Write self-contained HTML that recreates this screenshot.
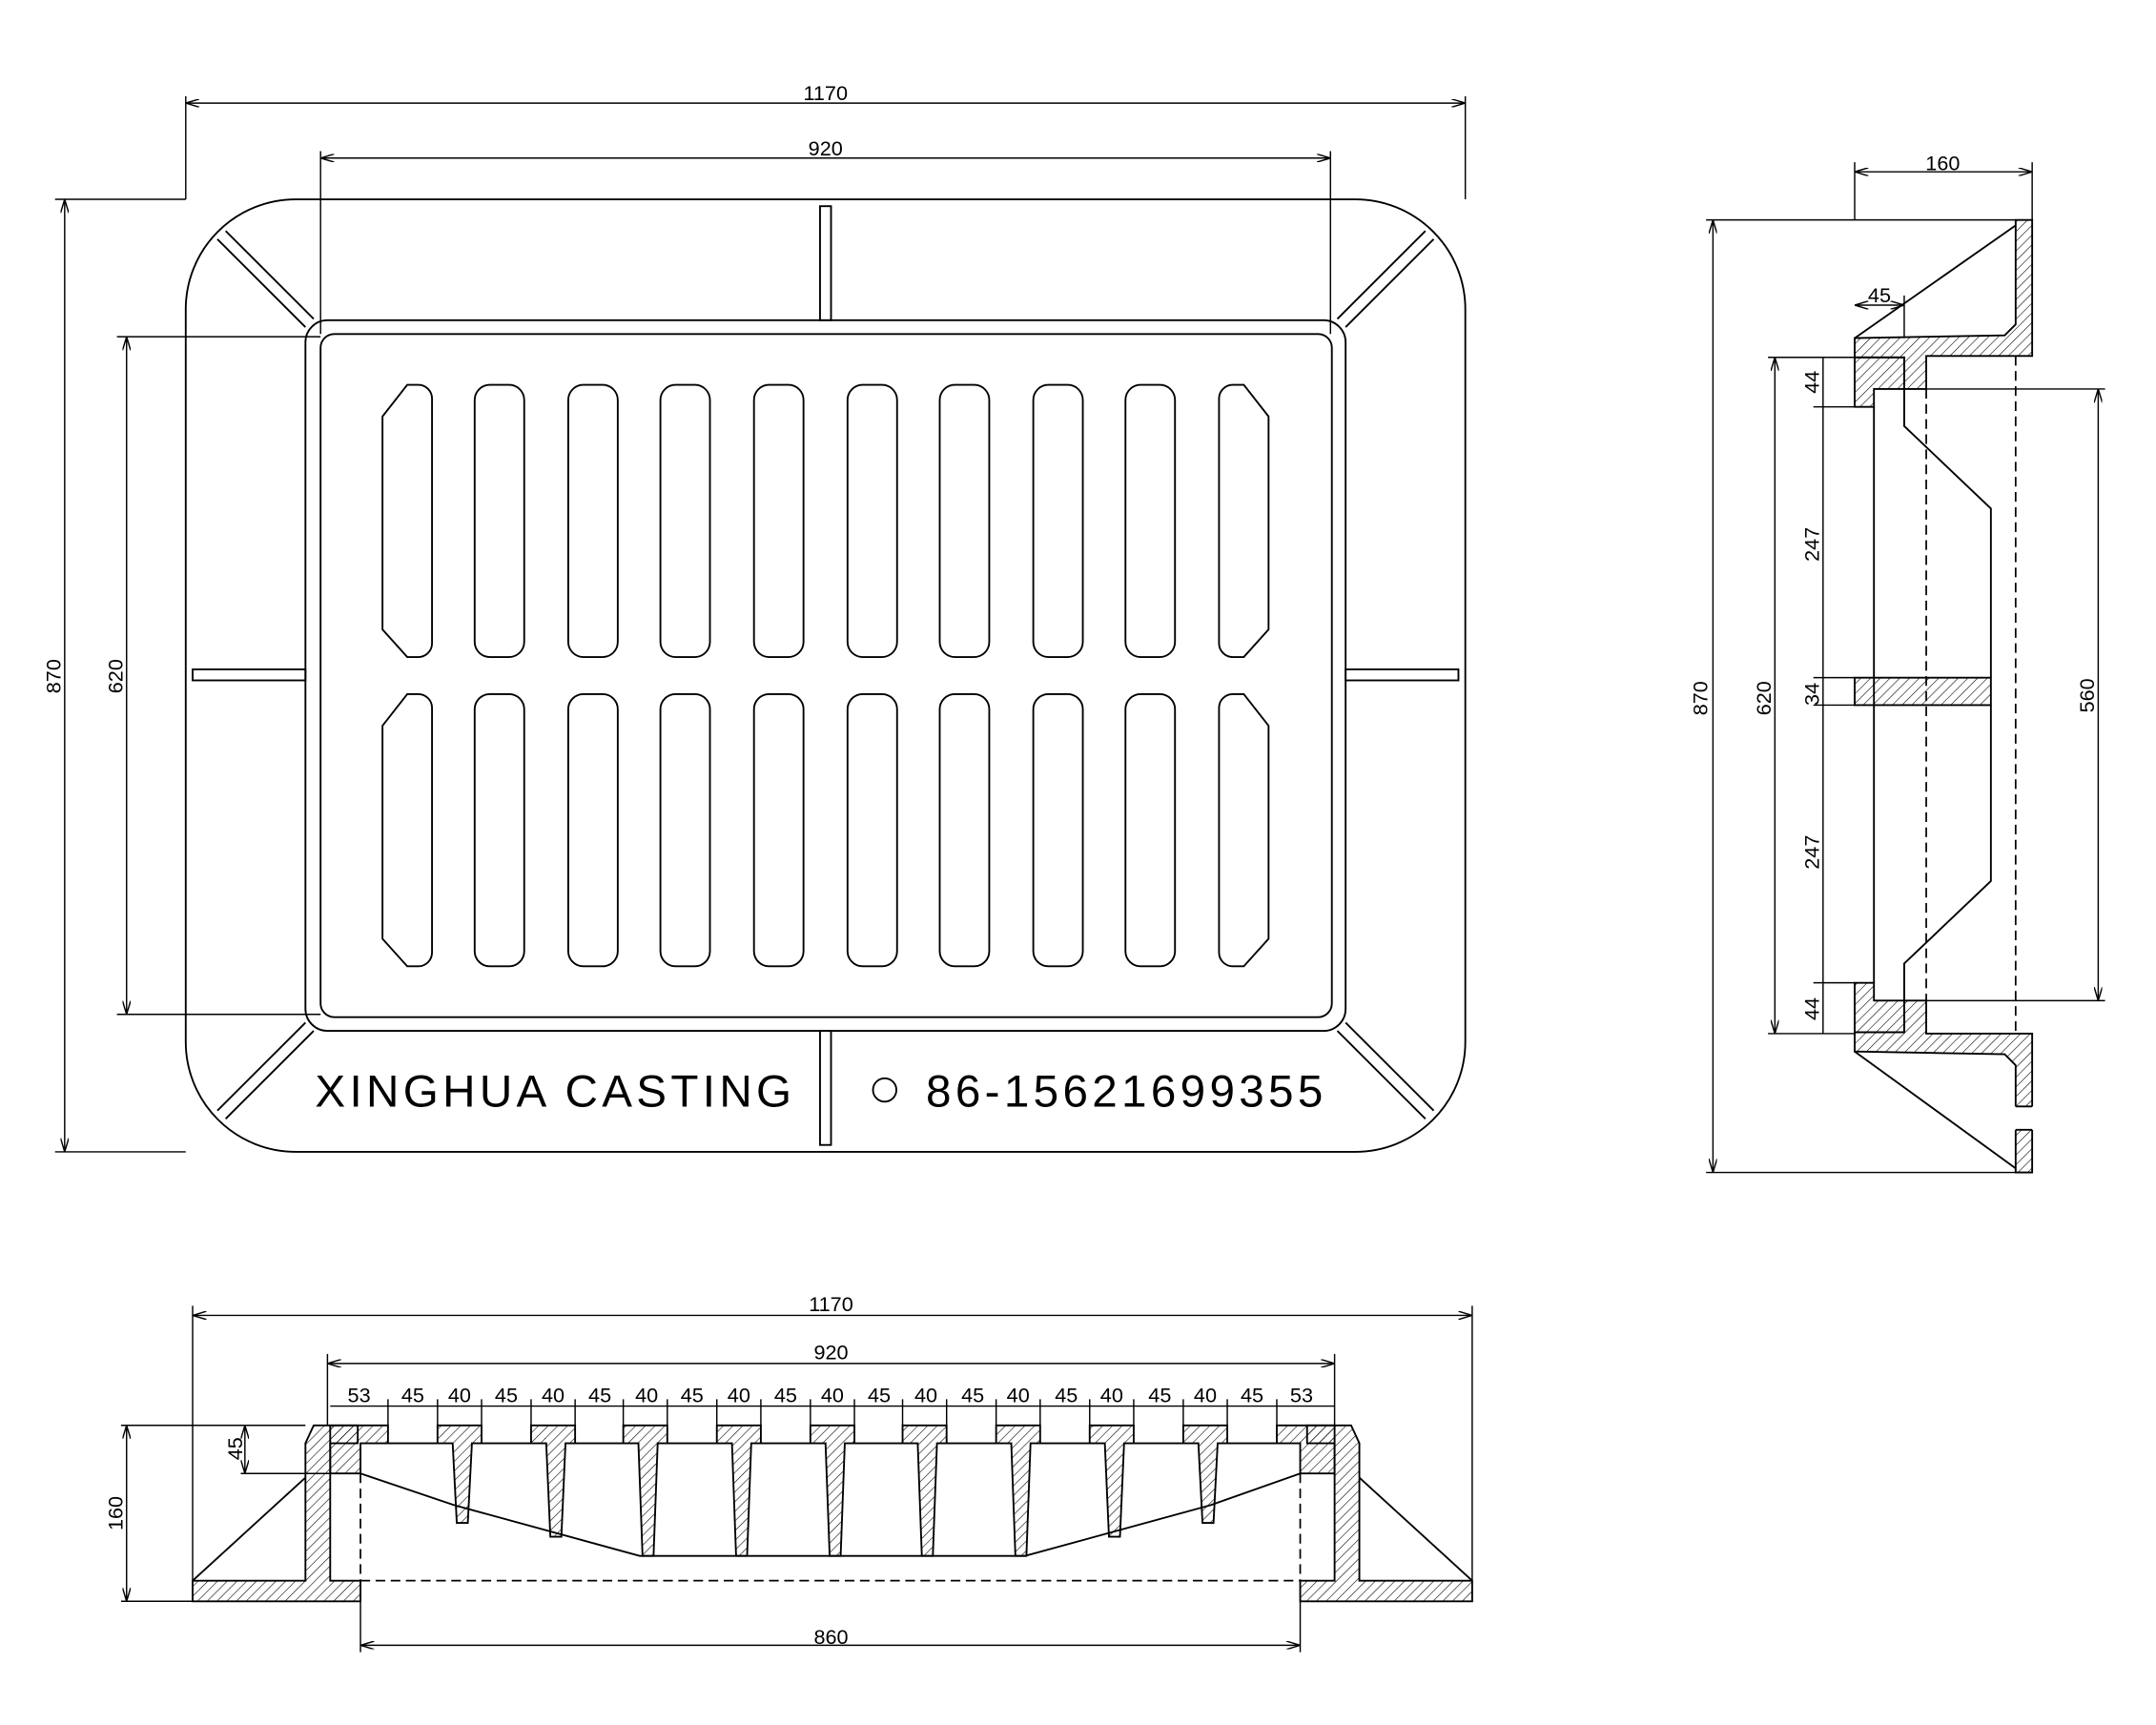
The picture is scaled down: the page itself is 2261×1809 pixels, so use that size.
<!DOCTYPE html>
<html><head><meta charset="utf-8"><style>html,body{margin:0;padding:0;background:#fff}svg{display:block}</style></head>
<body>
<svg width="2261" height="1809" viewBox="0 0 1567 1255" preserveAspectRatio="none" xmlns="http://www.w3.org/2000/svg" font-family="Liberation Sans, sans-serif">
<defs>
<pattern id="h" patternUnits="userSpaceOnUse" width="5" height="5" patternTransform="rotate(45)"><line x1="0" y1="0" x2="0" y2="5" stroke="#000" stroke-width="0.8"/></pattern>
<marker id="a" viewBox="0 0 10 6" refX="10" refY="3" markerWidth="10" markerHeight="6" orient="auto-start-reverse" markerUnits="userSpaceOnUse"><path d="M0,0L10,3L0,6" fill="none" stroke="#000" stroke-width="1"/></marker>
</defs>
<g fill="none" stroke="#000" stroke-width="1.3">
<rect x="135" y="145" width="930" height="693" rx="80"/>
<rect x="222" y="233" width="756" height="517" rx="16"/>
<rect x="233" y="243" width="735" height="497" rx="10"/>
<g id="slots">
<path d="M296 280 h8 a10 10 0 0 1 10 10 v178 a10 10 0 0 1 -10 10 h-8 l-18 -20 v-155 z"/>
<rect x="345" y="280" width="36" height="198" rx="11"/><rect x="413" y="280" width="36" height="198" rx="11"/>
<rect x="480" y="280" width="36" height="198" rx="11"/><rect x="548" y="280" width="36" height="198" rx="11"/>
<rect x="616" y="280" width="36" height="198" rx="11"/><rect x="683" y="280" width="36" height="198" rx="11"/>
<rect x="751" y="280" width="36" height="198" rx="11"/><rect x="818" y="280" width="36" height="198" rx="11"/>
<path d="M904 280 h-8 a10 10 0 0 0 -10 10 v178 a10 10 0 0 0 10 10 h8 l18 -20 v-155 z"/>
</g>
<use href="#slots" transform="translate(0,225)"/>
<rect x="596" y="150" width="8" height="83"/><rect x="596" y="750" width="8" height="83"/>
<rect x="140" y="487" width="82" height="8"/><rect x="978" y="487" width="82" height="8"/>
<path d="M164 168 L228 232 M158 174 L222 238"/>
<path d="M1036 168 L972 232 M1042 174 L978 238"/>
<path d="M164 814 L228 750 M158 808 L222 744"/>
<path d="M1036 814 L972 750 M1042 808 L978 744"/>
<circle cx="643" cy="793" r="8.5"/>
</g>
<g font-size="33" letter-spacing="3"><text x="229" y="805">XINGHUA CASTING</text><text x="673" y="805">86-15621699355</text></g>
<g stroke="#000" stroke-width="1" fill="none">
<path d="M135 145V70 M1065 145V70 M233 243V110 M967 243V110 M135 145H40 M135 838H40 M233 245H85 M233 738H85"/>
<line x1="135" y1="75" x2="1065" y2="75" marker-start="url(#a)" marker-end="url(#a)"/>
<line x1="233" y1="115" x2="967" y2="115" marker-start="url(#a)" marker-end="url(#a)"/>
<line x1="47" y1="145" x2="47" y2="838" marker-start="url(#a)" marker-end="url(#a)"/>
<line x1="92" y1="245" x2="92" y2="738" marker-start="url(#a)" marker-end="url(#a)"/>
</g>
<g font-size="15" text-anchor="middle">
<text x="600" y="73">1170</text><text x="600" y="113">920</text>
<text transform="translate(44,492) rotate(-90)">870</text><text transform="translate(89,492) rotate(-90)">620</text>
</g>
<g stroke="#000" stroke-width="1.3">
<path d="M1465 160H1477V259H1400V283H1384V260H1348V246L1457 244L1465 236Z" fill="url(#h)"/>
<path d="M1465 853H1477V752H1400V728H1384V751H1348V765L1457 767L1465 775Z" fill="url(#h)"/>
<path d="M1348 260H1384V283H1362V296H1348Z" fill="url(#h)"/>
<path d="M1348 751H1384V728H1362V715H1348Z" fill="url(#h)"/>
<path d="M1348 493H1447V513H1348Z" fill="url(#h)"/>
<path d="M1348 246L1465 164 M1348 765L1465 850" fill="none"/>
<path d="M1384 283V310L1447 370V493 M1384 728V701L1447 641V513 M1362 296V715" fill="none"/>
<rect x="1463" y="805" width="16" height="17" fill="#fff" stroke="none"/>
<path d="M1465 805H1477 M1465 822H1477" fill="none"/>
</g>
<g stroke="#000" stroke-width="1.2" fill="none" stroke-dasharray="7 4">
<path d="M1400 283V728 M1465 259V752"/>
</g>
<g stroke="#000" stroke-width="1" fill="none">
<path d="M1348 160V118 M1477 160V118 M1465 160H1240 M1477 853H1240 M1348 260H1285 M1348 752H1285 M1348 296H1318 M1348 715H1318 M1348 493H1318 M1348 513H1318 M1400 283H1530 M1400 728H1530 M1384 246V215"/>
<line x1="1348" y1="125" x2="1477" y2="125" marker-start="url(#a)" marker-end="url(#a)"/>
<line x1="1348" y1="222" x2="1384" y2="222" marker-start="url(#a)" marker-end="url(#a)"/>
<line x1="1245" y1="160" x2="1245" y2="853" marker-start="url(#a)" marker-end="url(#a)"/>
<line x1="1290" y1="260" x2="1290" y2="752" marker-start="url(#a)" marker-end="url(#a)"/>
<line x1="1325" y1="260" x2="1325" y2="752"/>
<line x1="1525" y1="283" x2="1525" y2="728" marker-start="url(#a)" marker-end="url(#a)"/>
</g>
<g font-size="15" text-anchor="middle">
<text x="1412" y="124">160</text><text x="1366" y="220">45</text>
<text transform="translate(1241,508) rotate(-90)">870</text><text transform="translate(1287,508) rotate(-90)">620</text>
<text transform="translate(1322,278) rotate(-90)">44</text><text transform="translate(1322,396) rotate(-90)">247</text>
<text transform="translate(1322,505) rotate(-90)">34</text><text transform="translate(1322,620) rotate(-90)">247</text>
<text transform="translate(1322,734) rotate(-90)">44</text><text transform="translate(1522,506) rotate(-90)">560</text>
</g>
<g stroke="#000" stroke-width="1.3">
<path d="M140 1150H222V1050L228 1037H260V1050H240V1150H262V1165H140Z" fill="url(#h)"/>
<path d="M1070 1150H988V1050L982 1037H950V1050H970V1150H945V1165H1070Z" fill="url(#h)"/>
<path d="M140 1150L222 1075 M1070 1150L988 1075" fill="none"/>
<path d="M240 1037H282V1050H262V1072H240Z" fill="url(#h)"/>
<path d="M970 1037H928V1050H945V1072H970Z" fill="url(#h)"/>
<path d="M318 1037H350V1050H343L340 1108H332L329 1050H318Z" fill="url(#h)"/>
<path d="M386 1037H418V1050H411L408 1118H400L397 1050H386Z" fill="url(#h)"/>
<path d="M453 1037H485V1050H478L475 1132H467L464 1050H453Z" fill="url(#h)"/>
<path d="M521 1037H553V1050H546L543 1132H535L532 1050H521Z" fill="url(#h)"/>
<path d="M589 1037H621V1050H614L611 1132H603L600 1050H589Z" fill="url(#h)"/>
<path d="M656 1037H688V1050H681L678 1132H670L667 1050H656Z" fill="url(#h)"/>
<path d="M724 1037H756V1050H749L746 1132H738L735 1050H724Z" fill="url(#h)"/>
<path d="M792 1037H824V1050H817L814 1118H806L803 1050H792Z" fill="url(#h)"/>
<path d="M860 1037H892V1050H885L882 1108H874L871 1050H860Z" fill="url(#h)"/>
<path d="M262 1072L330 1095 L465 1132 L745 1132 L880 1095 L945 1072 M282 1050H318 M350 1050H386 M418 1050H453 M485 1050H521 M553 1050H589 M621 1050H656 M688 1050H724 M756 1050H792 M824 1050H860 M892 1050H928" fill="none"/>
</g>
<path d="M262 1150H945 M262 1072V1150 M945 1072V1150" stroke="#000" stroke-width="1.2" stroke-dasharray="7 4" fill="none"/>
<g stroke="#000" stroke-width="1" fill="none">
<path d="M140 1150V950 M1070 1150V950 M238 1037V985 M970 1037V985 M222 1037H88 M140 1165H88 M240 1072H175 M262 1165V1202 M945 1165V1202"/>
<line x1="140" y1="957" x2="1070" y2="957" marker-start="url(#a)" marker-end="url(#a)"/>
<line x1="238" y1="992" x2="970" y2="992" marker-start="url(#a)" marker-end="url(#a)"/>
<line x1="240" y1="1023" x2="970" y2="1023"/>
<path d="M282 1018V1037 M318 1018V1037 M350 1018V1037 M386 1018V1037 M418 1018V1037 M453 1018V1037 M485 1018V1037 M521 1018V1037 M553 1018V1037 M589 1018V1037 M621 1018V1037 M656 1018V1037 M688 1018V1037 M724 1018V1037 M756 1018V1037 M792 1018V1037 M824 1018V1037 M860 1018V1037 M892 1018V1037 M928 1018V1037"/>
<line x1="92" y1="1037" x2="92" y2="1165" marker-start="url(#a)" marker-end="url(#a)"/>
<line x1="178" y1="1037" x2="178" y2="1072" marker-start="url(#a)" marker-end="url(#a)"/>
<line x1="262" y1="1197" x2="945" y2="1197" marker-start="url(#a)" marker-end="url(#a)"/>
</g>
<g font-size="15" text-anchor="middle">
<text x="604" y="954">1170</text><text x="604" y="989">920</text><text x="604" y="1196">860</text>
<text transform="translate(89,1101) rotate(-90)">160</text><text transform="translate(176,1054) rotate(-90)">45</text>
<text x="261" y="1020">53</text><text x="300" y="1020">45</text><text x="334" y="1020">40</text><text x="368" y="1020">45</text><text x="402" y="1020">40</text><text x="436" y="1020">45</text><text x="470" y="1020">40</text><text x="503" y="1020">45</text><text x="537" y="1020">40</text><text x="571" y="1020">45</text><text x="605" y="1020">40</text><text x="639" y="1020">45</text><text x="673" y="1020">40</text><text x="707" y="1020">45</text><text x="740" y="1020">40</text><text x="775" y="1020">45</text><text x="808" y="1020">40</text><text x="843" y="1020">45</text><text x="876" y="1020">40</text><text x="910" y="1020">45</text><text x="946" y="1020">53</text>
</g>
</svg>
</body></html>
